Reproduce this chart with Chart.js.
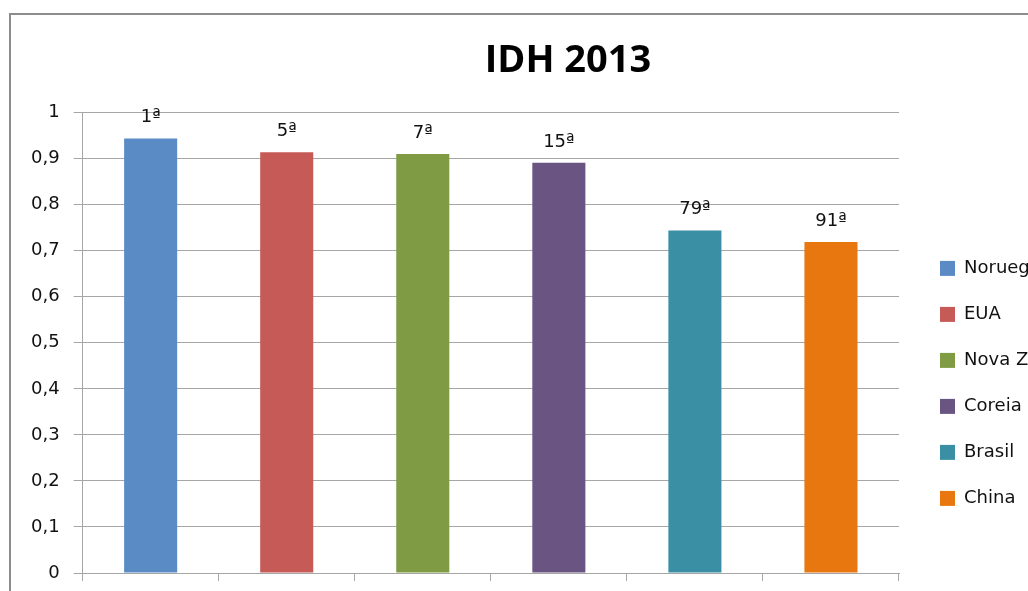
<!DOCTYPE html>
<html>
<head>
<meta charset="utf-8">
<script src="https://cdn.jsdelivr.net/npm/chart.js@4/dist/chart.umd.min.js"></script>
<style>
  html, body { margin: 0; padding: 0; width: 1028px; height: 591px; overflow: hidden; background: #fff; }
  #frame { position: absolute; left: 9px; top: 13px; width: 1108px; height: 620px; border: 2px solid #8c8c8c; background: #fff; }
  #frame canvas { display: block; }
</style>
</head>
<body>
<div id="frame"><canvas id="chart" width="1108" height="620"></canvas></div>
<script>
// data
const countries = ['Noruega', 'EUA', 'Nova Zelândia', 'Coreia do Sul', 'Brasil', 'China'];
const idh = [0.944, 0.914, 0.910, 0.891, 0.744, 0.719];
const ranks = ['1ª', '5ª', '7ª', '15ª', '79ª', '91ª'];
const yTickLabels = ['0', '0,1', '0,2', '0,3', '0,4', '0,5', '0,6', '0,7', '0,8', '0,9', '1'];
const colors = ['#5b8bc5', '#c65a56', '#7f9b43', '#6a5582', '#3a8fa5', '#e8770f'];

const FONT = "'DejaVu Sans', sans-serif";
const TITLE_FONT = "'Open Sans', 'DejaVu Sans', sans-serif";

// rank text over each bar
const rankLabels = {
    id: 'rankLabels',
    afterDatasetsDraw(chart) {
        const ctx = chart.ctx;
        const meta = chart.getDatasetMeta(0);
        ctx.save();
        ctx.font = '18px ' + FONT;
        ctx.fillStyle = '#111';
        ctx.textAlign = 'center';
        ctx.textBaseline = 'alphabetic';
        meta.data.forEach((bar, i) => {
            ctx.fillText(ranks[i], bar.x, bar.y - 16);
        });
        ctx.restore();
    }
};

new Chart(document.querySelector('#chart').getContext('2d'), {
    type: 'bar',
    data: {
        labels: countries,
        datasets: [{
            label: 'IDH 2013',
            data: idh,
            backgroundColor: colors,
            borderWidth: 0,
            categoryPercentage: 0.39,
            barPercentage: 1
        }]
    },
    options: {
        responsive: false,
        animation: false,
        layout: { padding: { left: 6, right: 0, bottom: 54 } },
        plugins: {
            title: {
                display: true,
                text: 'IDH 2013',
                color: '#000',
                font: { family: TITLE_FONT, size: 38, weight: 'bold' },
                padding: { top: 23, bottom: 29 }
            },
            legend: {
                position: 'right',
                align: 'start',
                maxWidth: 207,
                // empty title only pushes the items down
                title: { display: true, text: ' ', font: { size: 12 }, padding: { top: 0, bottom: 202 } },
                labels: {
                    color: '#000',
                    font: { family: FONT, size: 18 },
                    boxWidth: 15,
                    boxHeight: 15,
                    padding: 28,
                    // legend box is wider in the original (it runs off the edge)
                    generateLabels: (chart) => countries.map((c, i) => ({
                        text: i === 2 ? c + '\u00a0'.repeat(10) : c,
                        fillStyle: colors[i],
                        strokeStyle: colors[i],
                        fontColor: '#111',
                        lineWidth: 0,
                        index: i
                    }))
                },
                onClick: null
            },
            tooltip: { enabled: false }
        },
        scales: {
            x: {
                offset: true,
                grid: { offset: true, drawOnChartArea: false, drawTicks: true, tickLength: 8, color: '#a6a6a6' },
                border: { color: '#a6a6a6' },
                ticks: { display: false }
            },
            y: {
                min: 0,
                max: 1,
                ticks: {
                    stepSize: 0.1,
                    padding: 14,
                    color: '#111',
                    font: { family: FONT, size: 18 },
                    callback: (v, i) => yTickLabels[i]
                },
                grid: { color: '#a6a6a6', tickLength: 9 },
                border: { color: '#a6a6a6' }
            },
            // empty spacer between plot and legend
            gap: {
                type: 'linear',
                position: 'right',
                display: true,
                grid: { display: false },
                border: { display: false },
                ticks: { display: false },
                afterFit: (scale) => { scale.width = 13; }
            }
        }
    },
    plugins: [rankLabels]
});
</script>
</body>
</html>
